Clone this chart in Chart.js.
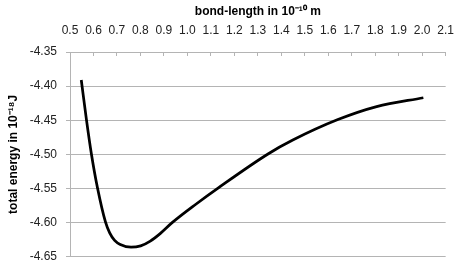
<!DOCTYPE html>
<html>
<head>
<meta charset="utf-8">
<script src="https://cdn.jsdelivr.net/npm/chart.js@4/dist/chart.umd.min.js"></script>
<style>
  html, body { margin: 0; padding: 0; background: #fff; }
  #wrap { width: 472px; height: 273px; }
</style>
</head>
<body>
<div id="wrap"><canvas id="chart" width="472" height="273"></canvas></div>
<script>
// values
var bondLength = [0.548, 0.570, 0.591, 0.617, 0.651, 0.669, 0.690, 0.714, 0.760, 0.801,
                  0.842, 0.884, 0.935, 1.036, 1.132, 1.345, 1.449, 1.641, 1.806, 2.005];
var totalEnergy = [-4.391, -4.449, -4.499, -4.549, -4.599, -4.615, -4.626, -4.632, -4.636, -4.634,
                   -4.627, -4.616, -4.600, -4.573, -4.549, -4.499, -4.479, -4.449, -4.430, -4.417];

var xTitle = 'bond-length in 10\u207B\u00B9\u2070 m';
var yTitle = 'total energy in 10\u207B\u00B9\u2078J';

var gridColor = '#b4b4b4';
var fontFamily = '"Liberation Sans", Arial, sans-serif';

var points = bondLength.map(function (x, i) {
    return {x: x, y: totalEnergy[i]};
});

new Chart(document.getElementById('chart'), {
    type: 'line',
    data: {
        datasets: [{
            data: points,
            borderColor: '#000',
            borderWidth: 2.75,
            pointRadius: 0,
            fill: false,
            cubicInterpolationMode: 'monotone'
        }]
    },
    options: {
        responsive: false,
        devicePixelRatio: 1,
        animation: false,
        layout: {padding: {left: 0, right: 14, top: 0, bottom: 11}},
        plugins: {legend: {display: false}, tooltip: {enabled: false}},
        scales: {
            x: {
                type: 'linear',
                position: 'top',
                min: 0.5,
                max: 2.1,
                afterFit: function (s) { s.height = 52; },
                ticks: {
                    stepSize: 0.1,
                    padding: 18,
                    color: '#222',
                    font: {family: fontFamily, size: 12},
                    callback: function (v) { return v.toFixed(1); }
                },
                grid: {drawOnChartArea: false, color: gridColor, tickLength: -4},
                border: {color: gridColor},
                title: {
                    display: true,
                    text: xTitle,
                    color: '#000',
                    font: {family: fontFamily, size: 12, weight: 'bold'},
                    padding: {top: 4, bottom: 0}
                }
            },
            y: {
                min: -4.65,
                max: -4.35,
                afterFit: function (s) { s.width = 70; },
                ticks: {
                    stepSize: 0.05,
                    padding: 9,
                    color: '#222',
                    font: {family: fontFamily, size: 12},
                    callback: function (v) { return v.toFixed(2); }
                },
                grid: {color: gridColor, tickLength: 4},
                border: {color: gridColor},
                title: {
                    display: true,
                    text: yTitle,
                    color: '#000',
                    font: {family: fontFamily, size: 12, weight: 'bold'},
                    padding: {top: 6, bottom: 0}
                }
            }
        }
    }
});
</script>
</body>
</html>
